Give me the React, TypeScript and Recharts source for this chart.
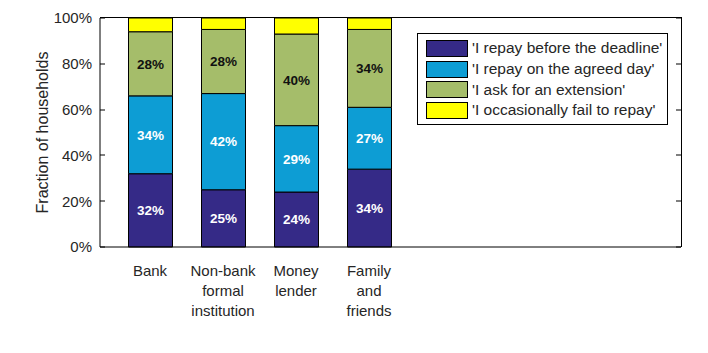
import { BarChart, Bar, XAxis, YAxis, LabelList, Legend } from "recharts";

const categories = ["Bank", "Non-bank\nformal\ninstitution", "Money\nlender", "Family\nand\nfriends"];
const beforeDeadline = [32, 25, 24, 34];
const agreedDay = [34, 42, 29, 27];
const extension = [28, 28, 40, 34];
const failToRepay = [6, 5, 7, 5];
const yTicks = [0, 20, 40, 60, 80, 100];

const series = [
  { key: "before", name: "'I repay before the deadline'", color: "#352a87", labelColor: "#ffffff" },
  { key: "agreed", name: "'I repay on the agreed day'", color: "#0d9dd4", labelColor: "#ffffff" },
  { key: "extension", name: "'I ask for an extension'", color: "#a5bd6a", labelColor: "#111111" },
  { key: "fail", name: "'I occasionally fail to repay'", color: "#ffff00", labelColor: "" },
];

const data = categories.map((name, i) => ({
  name,
  before: beforeDeadline[i],
  agreed: agreedDay[i],
  extension: extension[i],
  fail: failToRepay[i],
}));

const FONT = "'Liberation Sans', Arial, sans-serif";
const TEXT = "#262626";

// plot box (the frame is drawn around it)
const W = 708;
const H = 353;
const PLOT = { left: 100, top: 18, right: 681, bottom: 247 };
const PLOT_W = PLOT.right - PLOT.left;

const LeftTick = (props: any) => {
  const x = Number(props.x);
  const y = Number(props.y);
  const axisX = x + 8;
  const ty = Math.round(y) - 0.5;
  return (
    <g>
      <rect x={axisX} y={ty} width={5} height={1} fill="#000" />
      <rect x={axisX + PLOT_W - 5} y={ty} width={5} height={1} fill="#000" />
      <text x={x} y={y} dy="0.36em" textAnchor="end" fontSize={15} fill={TEXT} fontFamily={FONT}>
        {`${props.payload.value}%`}
      </text>
    </g>
  );
};

const CategoryTick = (props: any) => {
  const x = Number(props.x);
  const y = Number(props.y);
  const lines = String(props.payload.value).split("\n");
  return (
    <text textAnchor="middle" fontSize={15} fill={TEXT} fontFamily={FONT}>
      {lines.map((l, i) => (
        <tspan key={i} x={x} y={y + 29 + i * 20}>
          {l}
        </tspan>
      ))}
    </text>
  );
};

const renderLegend = () => (
  <div
    style={{
      border: "1px solid #000",
      background: "#fff",
      padding: "4px 6px 3px 8px",
      fontFamily: FONT,
      fontSize: 15.5,
      color: TEXT,
      boxSizing: "border-box",
      whiteSpace: "nowrap",
    }}
  >
    {series.map((s) => (
      <div key={s.key} style={{ display: "flex", alignItems: "center", height: 20.7 }}>
        <span
          style={{
            display: "inline-block",
            flex: "none",
            width: 40,
            height: 15,
            background: s.color,
            border: "1px solid #000",
            marginRight: 4,
          }}
        />
        <span>{s.name}</span>
      </div>
    ))}
  </div>
);

const YLabel = (props: any) => {
  const { viewBox } = props;
  const cx = viewBox.x + 42;
  const cy = viewBox.y + viewBox.height / 2;
  return (
    <text
      x={cx}
      y={cy}
      transform={`rotate(-90, ${cx}, ${cy})`}
      textAnchor="middle"
      dominantBaseline="central"
      fontSize={16}
      fill={TEXT}
      fontFamily={FONT}
    >
      Fraction of households
    </text>
  );
};

const App = () => {
  return (
    <div style={{ position: "absolute", left: 0, top: 0, width: W, height: H, background: "#fff" }}>
      <BarChart
        width={W}
        height={H}
        data={data}
        margin={{ top: PLOT.top, right: W - PLOT.right, bottom: H - PLOT.bottom - 60, left: 0 }}
        barSize={44}
      >
        <XAxis
          dataKey="name"
          height={60}
          padding={{ left: 13.5, right: 275.5 }}
          axisLine={{ stroke: "#000", strokeWidth: 1 }}
          tickLine={false}
          tickSize={0}
          tickMargin={0}
          interval={0}
          tick={<CategoryTick />}
        />
        <YAxis
          width={PLOT.left}
          domain={[0, 100]}
          ticks={yTicks}
          interval={0}
          axisLine={{ stroke: "#000", strokeWidth: 1 }}
          tickLine={false}
          tickSize={0}
          tickMargin={8}
          tick={<LeftTick />}
          label={<YLabel />}
        />
        <Legend
          layout="horizontal"
          verticalAlign="middle"
          align="center"
          wrapperStyle={{ left: 417, top: 33, width: 251 }}
          content={renderLegend}
        />
        {series.map((s) => (
          <Bar
            key={s.key}
            dataKey={s.key}
            name={s.name}
            stackId="a"
            fill={s.color}
            stroke="#000"
            strokeWidth={1}
            isAnimationActive={false}
          >
            {s.labelColor && (
              <LabelList
                dataKey={s.key}
                position="center"
                fill={s.labelColor}
                fontSize={13.5}
                fontWeight="bold"
                fontFamily={FONT}
                formatter={(v: any) => `${v}%`}
              />
            )}
          </Bar>
        ))}
      </BarChart>
      {/* top and right edges of the axes box */}
      <div
        style={{
          position: "absolute",
          left: PLOT.left,
          top: PLOT.top - 1,
          width: PLOT_W + 1,
          height: 1,
          background: "#000",
          pointerEvents: "none",
        }}
      />
      <div
        style={{
          position: "absolute",
          left: PLOT.right,
          top: PLOT.top - 1,
          width: 1,
          height: PLOT.bottom - PLOT.top + 1,
          background: "#000",
          pointerEvents: "none",
        }}
      />
    </div>
  );
};

export default App;
